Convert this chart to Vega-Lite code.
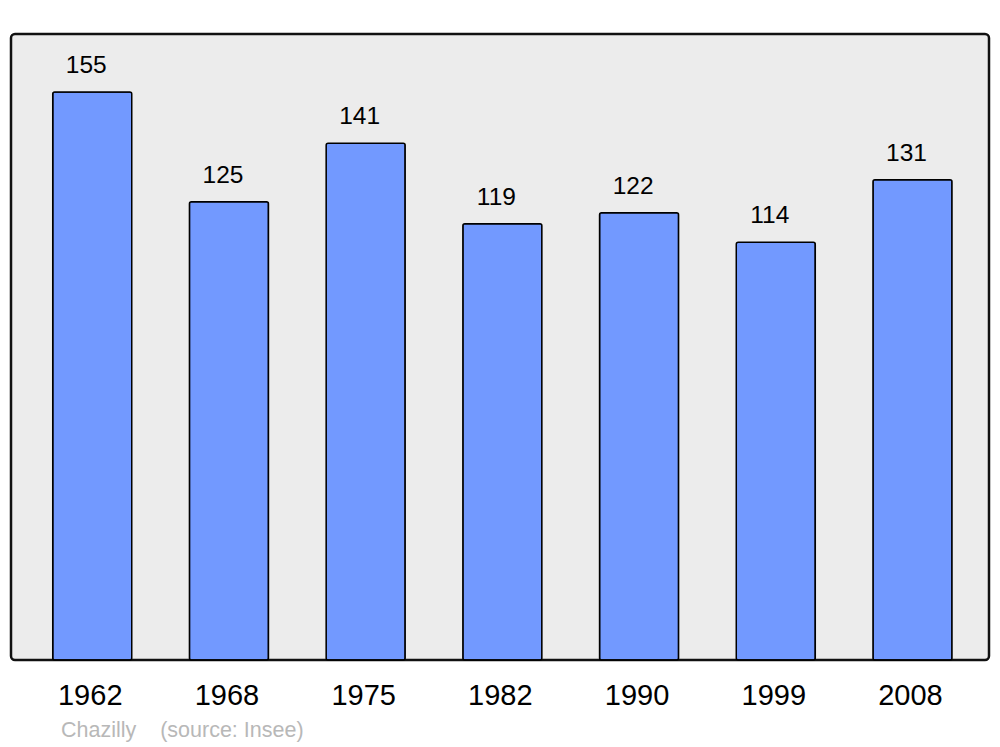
{
  "$schema": "https://vega.github.io/schema/vega-lite/v6.json",
  "width": 978,
  "height": 626,
  "autosize": {"type": "none"},
  "padding": {"left": 11, "top": 34, "right": 11, "bottom": 87},
  "background": "white",
  "config": {
    "view": {"fill": "#ececec", "stroke": "#111111", "strokeWidth": 2.5, "cornerRadius": 4},
    "font": "Liberation Sans"
  },
  "title": {
    "text": "Chazilly\u00a0\u00a0\u00a0\u00a0(source: Insee)",
    "orient": "bottom",
    "anchor": "start",
    "frame": "group",
    "dx": 50,
    "offset": 27,
    "font": "Liberation Sans",
    "fontSize": 21.5,
    "fontWeight": "normal",
    "color": "#b8b8b8",
    "baseline": "alphabetic"
  },
  "data": {
    "values": [
      {"year": "1962", "pop": 155},
      {"year": "1968", "pop": 125},
      {"year": "1975", "pop": 141},
      {"year": "1982", "pop": 119},
      {"year": "1990", "pop": 122},
      {"year": "1999", "pop": 114},
      {"year": "2008", "pop": 131}
    ]
  },
  "encoding": {
    "x": {
      "field": "year",
      "type": "ordinal",
      "scale": {"paddingInner": 0.422, "paddingOuter": 0.288, "align": 0.53},
      "axis": {
        "title": null,
        "domain": false,
        "ticks": false,
        "tickSize": 0,
        "labelAngle": 0,
        "labelFontSize": 29,
        "labelFont": "Liberation Sans",
        "labelColor": "black",
        "labelBaseline": "middle",
        "labelPadding": 35,
        "labelOffset": -2
      }
    },
    "y": {
      "field": "pop",
      "type": "quantitative",
      "scale": {"domain": [0, 170.8], "nice": false, "zero": true},
      "axis": null
    }
  },
  "layer": [
    {
      "mark": {"type": "bar", "fill": "#7299ff", "stroke": "black", "strokeWidth": 1.5, "cornerRadius": 2}
    },
    {
      "mark": {"type": "text", "fontSize": 24.5, "font": "Liberation Sans", "color": "black", "baseline": "alphabetic", "dy": -19, "dx": -6},
      "encoding": {"text": {"field": "pop", "type": "quantitative"}}
    }
  ]
}
